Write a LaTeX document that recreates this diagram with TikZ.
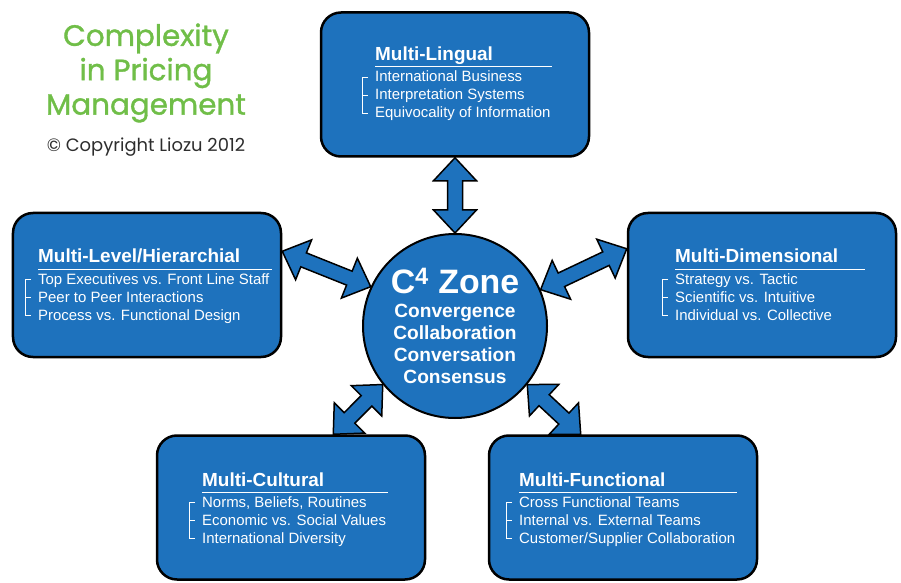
\documentclass[tikz,border=0pt]{standalone}
\usepackage{fontspec}
\setmainfont{Liberation Sans}
\newfontfamily\geofont{Poppins}
\newfontfamily\geofontheavy{Poppins}[FakeBold=1.2]
\usetikzlibrary{calc}
\definecolor{zoneblue}{RGB}{30,114,189}
\definecolor{leafgreen}{RGB}{112,190,72}
\definecolor{inkgray}{RGB}{45,45,45}
\pgfdeclarelayer{back}
\pgfsetlayers{back,main}

\newcommand{\headlen}{23bp}
\newcommand{\headw}{21.5bp}
\newcommand{\shaftw}{7.5bp}

% block arrow with a head at both ends
\newcommand{\twoway}[2]{%
  \coordinate (ha) at ($(#1)!\headlen!(#2)$);
  \coordinate (hb) at ($(#2)!\headlen!(#1)$);
  \filldraw[blockarrow] (#1) -- ($(ha)!\headw!90:(#2)$) -- ($(ha)!\shaftw!90:(#2)$)
    -- ($(hb)!\shaftw!-90:(#1)$) -- ($(hb)!\headw!-90:(#1)$) -- (#2)
    -- ($(hb)!\headw!90:(#1)$) -- ($(hb)!\shaftw!90:(#1)$)
    -- ($(ha)!\shaftw!-90:(#2)$) -- ($(ha)!\headw!-90:(#2)$) -- cycle;}

% facet box: name, centre, text origin, rule length, title, three items
\newcommand{\facet}[8]{%
  \node[facetbox] (#1) at (#2) {};
  \begin{scope}[shift={(#3)}]
    \node[facettitle] (#1-title) at (0,0) {#5};
    \draw[white,line width=1bp] (0,6) -- (#4,6);
    \node[facetitem] (#1-a) at (0,21) {#6};
    \node[facetitem] (#1-b) at (0,39) {#7};
    \node[facetitem] (#1-c) at (0,57) {#8};
    \draw[white,line width=0.9bp] (-7,16) -- (-13,16) -- (-13,52) -- (-7,52)
      (-13,34) -- (-7,34);
  \end{scope}}

\begin{document}
\begin{tikzpicture}[
  x=1bp, y=-1bp,
  facetbox/.style={draw=black,line width=2.5bp,fill=zoneblue,rounded corners=20bp,
    minimum width=268bp,minimum height=144bp,inner sep=0pt},
  facettitle/.style={anchor=base west,inner sep=0pt,text=white,
    font=\fontsize{19}{21}\selectfont\bfseries},
  facetitem/.style={anchor=base west,inner sep=0pt,text=white,
    font=\fontsize{15}{17}\selectfont},
  zonecircle/.style={circle,draw=black,line width=2bp,fill=zoneblue,
    minimum size=184bp,inner sep=0pt,align=center,text=white,
    font=\bfseries\fontsize{19.2}{22.3}\selectfont},
  blockarrow/.style={draw=black,line width=1.5bp,fill=zoneblue,line join=miter}
]
\useasboundingbox (0,0) rectangle (901,583);

% heading and copyright
\node[align=center,text=leafgreen,font=\geofontheavy\fontsize{29.5}{34.5}\selectfont]
  (heading) at (146,73) {Complexity\\in Pricing\\Management};
\node[text=inkgray,font=\geofont\fontsize{18}{20}\selectfont]
  (copyright) at (146,147) {\textcopyright{} Copyright Liozu 2012};

% centre
\node[zonecircle] (zone) at (455,326)
  {{\fontsize{34}{38}\selectfont C\textsuperscript{4} Zone}\\[2bp]
   Convergence\\Collaboration\\Conversation\\Consensus};

% five facets
\facet{lingual}{455,84.5}{375,61}{177}{Multi-Lingual}
  {International Business}{Interpretation Systems}{Equivocality of Information}
\facet{level}{147,285}{38,263}{234}{Multi-Level/Hierarchial}
  {Top Executives vs. Front Line Staff}{Peer to Peer Interactions}{Process vs. Functional Design}
\facet{dimensional}{762,285}{675,263}{190}{Multi-Dimensional}
  {Strategy vs. Tactic}{Scientific vs. Intuitive}{Individual vs. Collective}
\facet{cultural}{291,507.5}{202,486}{186}{Multi-Cultural}
  {Norms, Beliefs, Routines}{Economic vs. Social Values}{International Diversity}
\facet{functional}{623,507.5}{519,486}{218}{Multi-Functional}
  {Cross Functional Teams}{Internal vs. External Teams}{Customer/Supplier Collaboration}

% arrows sit behind boxes and circle
\begin{pgfonlayer}{back}
  \twoway{lingual.south}{zone.north}
  \twoway{level.14}{zone.155}
  \twoway{dimensional.165}{zone.23}
  \twoway{cultural.60}{zone.219}
  \twoway{functional.120}{zone.321}
\end{pgfonlayer}
\end{tikzpicture}
\end{document}
